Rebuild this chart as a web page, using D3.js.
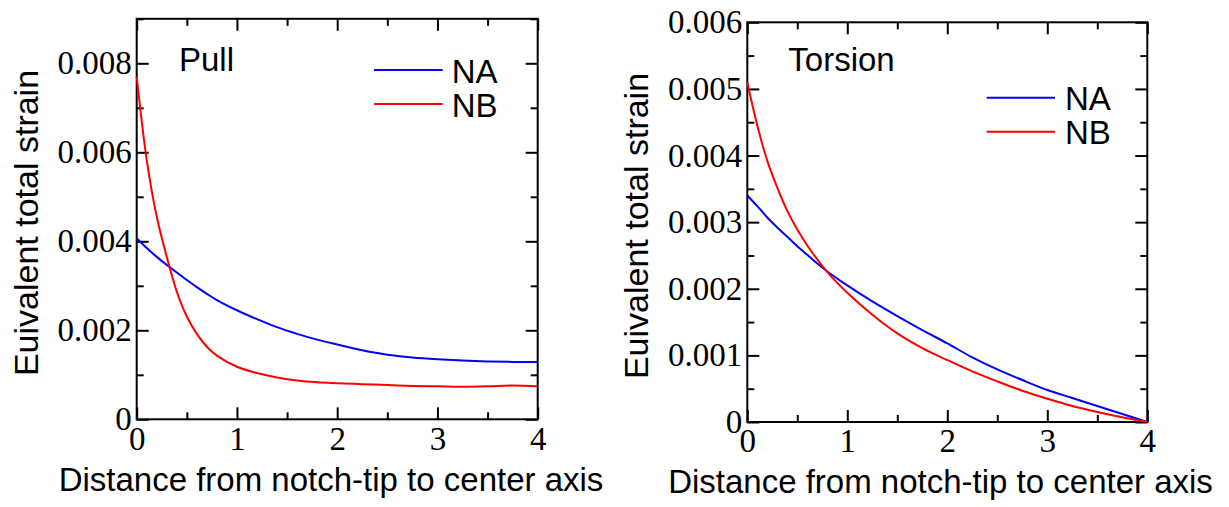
<!DOCTYPE html>
<html>
<head>
<meta charset="utf-8">
<script src="https://cdn.jsdelivr.net/npm/d3@7"></script>
<style>
  body { margin: 0; background: #fff; }
  .tick text { font-family: "Liberation Serif", "Times New Roman", serif; font-size: 33px; fill: #000; }
  .title { font-family: "Liberation Sans", Arial, sans-serif; fill: #000; }
</style>
</head>
<body>
<svg width="1229" height="507"></svg>
<script>

// Pull panel
var pullX  = [0, 0.1, 0.2, 0.3, 0.4, 0.5, 0.6, 0.7, 0.8, 1.0, 1.2, 1.4, 1.6, 1.8, 2.0, 2.25, 2.5, 2.75, 3.0, 3.25, 3.5, 3.75, 4.0];
var pullNA = [0.00407, 0.00385, 0.00365, 0.00347, 0.00330, 0.00313, 0.00297, 0.00282, 0.00268, 0.00245, 0.00225, 0.00207,
              0.00192, 0.00179, 0.00168, 0.00155, 0.00145, 0.00139, 0.00135, 0.00132, 0.00130, 0.00129, 0.00129];
var pullNB = [0.00770, 0.00583, 0.00455, 0.00365, 0.00287, 0.00231, 0.00192, 0.00163, 0.00143, 0.00118, 0.00104, 0.00094,
              0.00087, 0.00083, 0.00081, 0.00079, 0.00077, 0.00075, 0.00074, 0.00073, 0.00074, 0.00076, 0.00074];

// Torsion panel
var torsionX  = [0, 0.1, 0.2, 0.3, 0.4, 0.5, 0.6, 0.7, 0.8, 1.0, 1.25, 1.5, 1.75, 2.0, 2.25, 2.5, 2.75, 3.0, 3.25, 3.5, 3.75, 4.0];
var torsionNA = [0.00340, 0.00324, 0.00307, 0.00292, 0.00278, 0.00264, 0.00251, 0.00238, 0.00226, 0.00205, 0.00181, 0.00159,
                 0.00138, 0.00118, 0.00097, 0.00079, 0.00063, 0.00048, 0.00036, 0.00024, 0.00012, 0];
var torsionNB = [0.00510, 0.00445, 0.00392, 0.00352, 0.00317, 0.00289, 0.00265, 0.00244, 0.00225, 0.00194, 0.00161, 0.00133,
                 0.00111, 0.00093, 0.00076, 0.00061, 0.00047, 0.00035, 0.00024, 0.00015, 0.00007, 0];

var xTicks = [0, 1, 2, 3, 4],
    xMinor = [0.5, 1.5, 2.5, 3.5];
var pullYTicks = [0, 0.002, 0.004, 0.006, 0.008],
    pullYMinor = [0.001, 0.003, 0.005, 0.007, 0.009];
var torsionYTicks = [0, 0.001, 0.002, 0.003, 0.004, 0.005, 0.006],
    torsionYMinor = [0.0005, 0.0015, 0.0025, 0.0035, 0.0045, 0.0055];
var seriesNames = ['NA', 'NB'],
    seriesColors = ['#0000ff', '#ff0000'];

var svg = d3.select('svg');

function yFmt(d) { return d === 0 ? '0' : d3.format('.3f')(d); }
function xFmt(d) { return d3.format('d')(d); }

function panel(o) {
  var x = d3.scaleLinear().domain([0, 4]).range([o.left, o.right]);
  var y = d3.scaleLinear().domain([0, o.ymax]).range([o.bottom, o.top]);
  var g = svg.append('g');
  var major = 12, minor = 7;

  function addAxis(axis, tx, ty, vals, size, format, pad) {
    var a = g.append('g')
        .attr('transform', 'translate(' + [tx, ty] + ')')
        .call(axis.tickValues(vals).tickSizeInner(-size).tickSizeOuter(0)
          .tickPadding(pad || 0).tickFormat(format || ''));
    a.select('.domain').remove();
    a.selectAll('line').attr('stroke', '#000').attr('stroke-width', 2);
    return a;
  }

  // major + minor ticks on all four sides, pointing inward
  addAxis(d3.axisBottom(x), 0, o.bottom, xTicks, major, xFmt, 7);
  addAxis(d3.axisBottom(x), 0, o.bottom, xMinor, minor);
  addAxis(d3.axisTop(x), 0, o.top, xTicks, major);
  addAxis(d3.axisTop(x), 0, o.top, xMinor, minor);
  addAxis(d3.axisLeft(y), o.left, 0, o.yTicks, major, yFmt, 5);
  addAxis(d3.axisLeft(y), o.left, 0, o.yMinor, minor);
  addAxis(d3.axisRight(y), o.right, 0, o.yTicks, major);
  addAxis(d3.axisRight(y), o.right, 0, o.yMinor, minor);

  g.append('rect')
      .attr('x', o.left).attr('y', o.top)
      .attr('width', o.right - o.left).attr('height', o.bottom - o.top)
      .attr('fill', 'none').attr('stroke', '#000').attr('stroke-width', 2);

  var line = d3.line()
      .x(function(d) { return x(d[0]); })
      .y(function(d) { return y(d[1]); })
      .curve(d3.curveCatmullRom.alpha(0.5));

  o.series.forEach(function(s, i) {
    g.append('path')
        .datum(d3.zip(o.xs, s))
        .attr('fill', 'none')
        .attr('stroke', seriesColors[i])
        .attr('stroke-width', 2)
        .attr('d', line);
  });

  // legend
  seriesNames.forEach(function(name, i) {
    var ly = o.legendY + i * 34;
    g.append('line')
        .attr('x1', o.right - o.legendX1).attr('x2', o.right - o.legendX2)
        .attr('y1', ly).attr('y2', ly)
        .attr('stroke', seriesColors[i]).attr('stroke-width', 2);
    g.append('text').attr('class', 'title')
        .attr('x', o.right - o.legendText).attr('y', ly + 12.7)
        .style('font-size', '33px')
        .text(name);
  });

  g.append('text').attr('class', 'title')
      .attr('x', o.left + o.labelX).attr('y', 71)
      .style('font-size', '33px')
      .text(o.label);

  g.append('text').attr('class', 'title')
      .attr('x', o.xTitleX).attr('y', o.xTitleY)
      .attr('text-anchor', 'middle')
      .style('font-size', '33px')
      .text('Distance from notch-tip to center axis');

  g.append('text').attr('class', 'title')
      .attr('transform', 'translate(' + [o.yTitleX, o.yTitleY] + ') rotate(-90)')
      .attr('text-anchor', 'middle')
      .style('font-size', '34px')
      .text('Euivalent total strain');
}

panel({
  left: 136.7, right: 537.7, top: 18.8, bottom: 419.3,
  ymax: 0.009, yTicks: pullYTicks, yMinor: pullYMinor,
  xs: pullX, series: [pullNA, pullNB],
  label: 'Pull', labelX: 42.3,
  legendY: 70, legendX1: 163.7, legendX2: 95, legendText: 86,
  xTitleX: 331, xTitleY: 491, yTitleX: 38, yTitleY: 223
});

panel({
  left: 747.3, right: 1147.3, top: 22.3, bottom: 422,
  ymax: 0.006, yTicks: torsionYTicks, yMinor: torsionYMinor,
  xs: torsionX, series: [torsionNA, torsionNB],
  label: 'Torsion', labelX: 41,
  legendY: 97.7, legendX1: 160.6, legendX2: 92.3, legendText: 82.3,
  xTitleX: 940.5, xTitleY: 492.7, yTitleX: 648, yTitleY: 226
});

</script>
</body>
</html>
